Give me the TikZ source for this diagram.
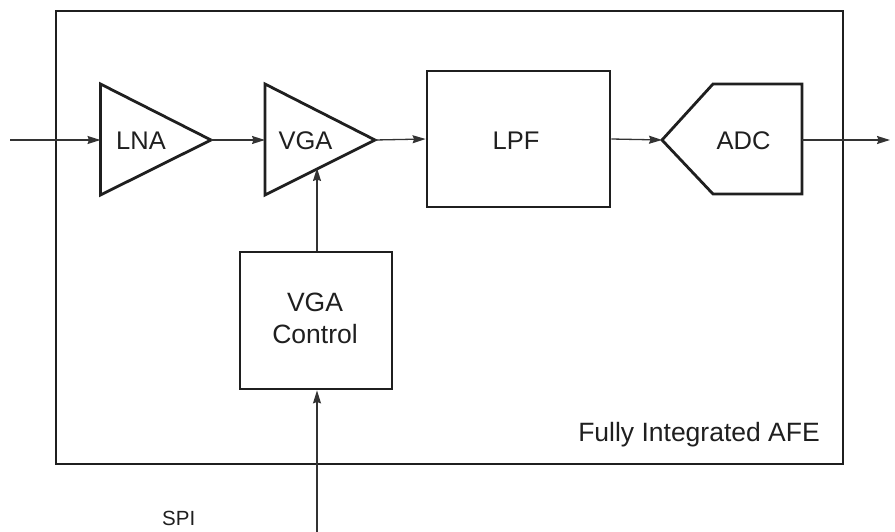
\documentclass[tikz,border=0pt]{standalone}
\usepackage{fontspec}
\setmainfont{Liberation Sans}
\usetikzlibrary{arrows.meta}
\begin{document}
\begin{tikzpicture}[x=1pt,y=-1pt,
  blk/.style={line width=2.8pt,draw=black!88,line join=miter},
  lbl/.style={font=\fontsize{25.5}{32}\selectfont,text=black!88,inner sep=0pt,align=center},
  conn/.style={line width=1.3pt,draw=black!80,-{Stealth[length=13pt,width=8pt,inset=1.5pt]}},
  wire/.style={line width=1.3pt,draw=black!80}]
\useasboundingbox (0,0) rectangle (895,532);
% outer AFE box
\draw[blk] (56,11) rectangle (843,464);
\node[lbl,font=\fontsize{26.5}{32}\selectfont,anchor=base east] (afe) at (820,441) {Fully Integrated AFE};
% LNA
\draw[blk] (100.5,84) -- (211,140) -- (100.5,195) -- cycle;
\coordinate (lnain) at (100.5,140);
\coordinate (lnaout) at (211,140);
\node[lbl] (lna) at (141,141) {LNA};
% VGA
\draw[blk] (265,84) -- (375,140) -- (265,195) -- cycle;
\coordinate (vgain) at (265,140);
\coordinate (vgaout) at (375,140);
\coordinate (vgactl) at (317,168);
\node[lbl] (vga) at (305.5,141) {VGA};
% LPF
\node[blk,minimum width=183pt,minimum height=136pt,inner sep=0pt] (lpf) at (518.5,139) {};
\node[lbl] (lpft) at (516,141) {LPF};
% ADC
\draw[blk] (662,140) -- (713,84) -- (802,84) -- (802,194) -- (713,194) -- cycle;
\coordinate (adcin) at (662,140);
\coordinate (adcout) at (802,140);
\node[lbl] (adc) at (743.5,141) {ADC};
% VGA control
\node[blk,minimum width=152pt,minimum height=137pt,inner sep=0pt] (ctl) at (316,320.5) {};
\node[lbl,font=\fontsize{26.5}{32}\selectfont] (ctlt) at (315,318) {VGA\\Control};
% external pins
\coordinate (in) at (10,140);
\coordinate (out) at (890,140);
\coordinate (spi) at (317,532);
\node[font=\fontsize{20.5}{24}\selectfont,text=black!88,anchor=base west,inner sep=0pt] (spil) at (162,525) {SPI};
% connectors
\draw[conn] (in) -- (lnain);
\draw[conn] (lnaout) -- (vgain);
\draw[conn] (vgaout) -- (lpf.west);
\draw[conn] (lpf.east) -- (adcin);
\draw[conn] (adcout) -- (out);
\draw[conn] (ctl.north -| vgactl) -- (vgactl);
\draw[conn] (spi) -- (ctl.south -| spi);
\end{tikzpicture}
\end{document}
